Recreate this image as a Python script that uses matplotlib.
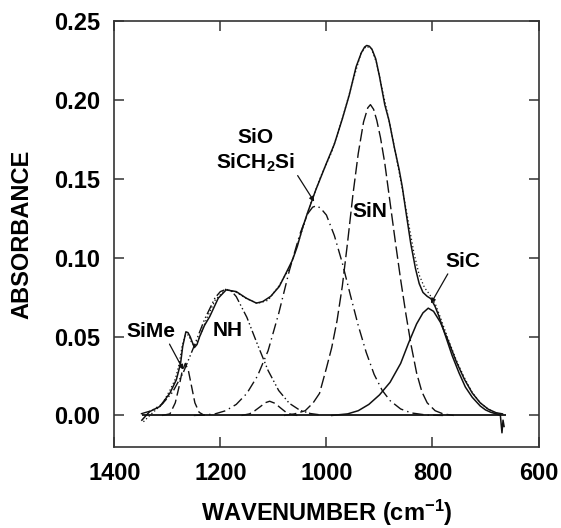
import numpy as np
import matplotlib
matplotlib.use('Agg')
import matplotlib.pyplot as plt

plt.rcParams['font.family'] = ['Liberation Sans', 'DejaVu Sans']
plt.rcParams['font.weight'] = 'bold'
plt.rcParams['axes.labelweight'] = 'bold'
plt.rcParams['mathtext.fontset'] = 'custom'
plt.rcParams['mathtext.rm'] = 'Liberation Sans:bold'
plt.rcParams['mathtext.bf'] = 'Liberation Sans:bold'
plt.rcParams['mathtext.default'] = 'bf'

total_wn = [1348, 1340, 1333, 1314, 1295, 1283, 1275, 1271, 1265, 1261, 1257, 1249,
            1244, 1239, 1230, 1220, 1204, 1189, 1170, 1151, 1132, 1120, 1105, 1089,
            1075, 1064, 1055, 1045, 1035, 1020, 1001, 985, 970, 957, 944, 934,
            928, 924, 919, 914, 907, 900, 890, 882, 872, 863, 857, 850, 841,
            832, 825, 818, 810, 803, 795, 788, 775, 763, 750, 738, 725, 710,
            700, 690, 678, 672, 669, 667, 665]
total_abs = [-0.003, 0.000, 0.0025, 0.0057, 0.0142, 0.0226, 0.033, 0.0437, 0.053, 0.0525,
             0.050, 0.043, 0.045, 0.050, 0.057, 0.0627, 0.0743, 0.0796, 0.0785, 0.0743,
             0.0712, 0.0722, 0.0755, 0.0817, 0.091, 0.0985, 0.107, 0.119, 0.129, 0.143,
             0.159, 0.172, 0.188, 0.203, 0.221, 0.230, 0.2335, 0.2345, 0.234, 0.232,
             0.226, 0.215, 0.197, 0.187, 0.170, 0.156, 0.145, 0.129, 0.109,
             0.093, 0.0835, 0.078, 0.0755, 0.074, 0.069, 0.063, 0.050, 0.038, 0.027,
             0.018, 0.0115, 0.006, 0.0035, 0.002, 0.0008, 0.000, -0.011, -0.003, -0.007]

# fitted sum (dotted), mostly hidden under the spectrum
fit_wn = [1345, 1330, 1310, 1295, 1285, 1278, 1272, 1266, 1260, 1254, 1248, 1240,
          1225, 1210, 1190, 1170, 1150, 1130, 1110, 1090, 1070, 1050, 1030, 1010,
          990, 970, 950, 935, 925, 915, 905, 895, 880, 865, 850, 835, 825,
          815, 805, 795, 785, 770, 755, 740, 725, 710, 695, 680, 668]
fit_abs = [-0.004, 0.001, 0.007, 0.016, 0.023, 0.032, 0.044, 0.051, 0.051, 0.046, 0.044, 0.049,
           0.062, 0.073, 0.080, 0.078, 0.074, 0.071, 0.073, 0.082, 0.093, 0.113, 0.134, 0.152,
           0.167, 0.188, 0.212, 0.2295, 0.234, 0.2325, 0.223, 0.207, 0.184, 0.158, 0.131, 0.103, 0.089,
           0.081, 0.0765, 0.071, 0.062, 0.048, 0.035, 0.024, 0.0145, 0.008, 0.004, 0.0015, 0.0005]

# deconvoluted bands
sime_wn = [1310, 1295, 1285, 1278, 1272, 1266, 1260, 1254, 1248, 1240, 1230]
sime_abs = [0.000, 0.001, 0.008, 0.018, 0.028, 0.033, 0.028, 0.018, 0.008, 0.002, 0.000]

nh_wn = [1350, 1330, 1310, 1290, 1270, 1250, 1230, 1210, 1200, 1189, 1178, 1170,
         1150, 1130, 1110, 1090, 1070, 1050, 1030, 1010]
nh_abs = [0.001, 0.003, 0.0071, 0.0148, 0.0271, 0.0435, 0.0607, 0.0746, 0.0785, 0.080, 0.0785, 0.0753,
          0.0622, 0.045, 0.0285, 0.0158, 0.0077, 0.0033, 0.0012, 0.0003]

bump_wn = [1160, 1145, 1135, 1125, 1115, 1107, 1097, 1087, 1077, 1067, 1055]
bump_abs = [0.000, 0.001, 0.003, 0.0055, 0.0081, 0.009, 0.0077, 0.0049, 0.0022, 0.0007, 0.000]

sio_wn = [1250, 1230, 1210, 1190, 1170, 1150, 1130, 1110, 1090, 1070, 1050, 1035,
          1026, 1018, 1010, 1000, 985, 970, 955, 940, 925, 910, 895, 880, 860,
          840, 810, 780]
sio_abs = [0.000, 0.0003, 0.001, 0.003, 0.007, 0.014, 0.025, 0.041, 0.0646, 0.0917, 0.115, 0.128,
           0.132, 0.133, 0.131, 0.127, 0.114, 0.0966, 0.0765, 0.057, 0.040, 0.026, 0.016, 0.0094, 0.0041,
           0.0016, 0.0002, 0.000]

sin_wn = [1080, 1060, 1040, 1025, 1013, 1000, 990, 980, 970, 960, 950, 940,
          930, 922, 917, 911, 905, 898, 890, 880, 870, 860, 850, 840, 830,
          820, 810, 795, 780, 760]
sin_abs = [0.000, 0.001, 0.003, 0.008, 0.014, 0.030, 0.043, 0.060, 0.082, 0.110, 0.140, 0.166,
           0.186, 0.195, 0.197, 0.194, 0.187, 0.176, 0.160, 0.135, 0.110, 0.086, 0.064, 0.044, 0.027,
           0.015, 0.008, 0.003, 0.001, 0.000]

sic_wn = [990, 960, 940, 920, 900, 880, 860, 845, 830, 818, 808, 798,
          785, 770, 755, 740, 725, 710, 695, 680, 668]
sic_abs = [0.000, 0.001, 0.003, 0.007, 0.013, 0.021, 0.033, 0.046, 0.058, 0.065, 0.068, 0.066,
           0.059, 0.047, 0.034, 0.023, 0.0142, 0.008, 0.004, 0.0017, 0.001]

baseline_range = [1348, 662]

x_ticks = [1400, 1200, 1000, 800, 600]
y_ticks = [0.00, 0.05, 0.10, 0.15, 0.20, 0.25]


def main():
    fig = plt.figure(figsize=(5.61, 5.28), dpi=100)
    ax = fig.add_axes([0.2037, 0.1534, 0.7563, 0.8068])

    ink = '#111111'
    ax.plot(total_wn, total_abs, color=ink, lw=1.1)
    ax.plot(fit_wn, fit_abs, color=ink, lw=0.9, ls=(0, (1, 2)))
    ax.hlines(0, baseline_range[0], baseline_range[1], color=ink, lw=1.3)

    ax.plot(sime_wn, sime_abs, color=ink, lw=1.0, ls=(0, (7, 3)))
    ax.plot(nh_wn, nh_abs, color=ink, lw=1.0, ls=(0, (7, 2, 1, 2, 1, 2)))
    ax.plot(bump_wn, bump_abs, color=ink, lw=1.0, ls=(0, (7, 3)))
    ax.plot(sio_wn, sio_abs, color=ink, lw=1.0, ls=(0, (8, 3, 1, 3)))
    ax.plot(sin_wn, sin_abs, color=ink, lw=1.0, ls=(0, (9, 3)))
    ax.plot(sic_wn, sic_abs, color=ink, lw=1.1)

    arrow = dict(arrowstyle='-|>', color=ink, lw=0.9, mutation_scale=7,
                 shrinkA=0, shrinkB=0)
    fs = 15
    ax.annotate('SiMe', xy=(1270, 0.029), xytext=(1331, 0.053), fontsize=fs,
                ha='center', va='center', arrowprops=dict(arrow, relpos=(0.85, 0.0)))
    ax.text(1186, 0.054, 'NH', fontsize=fs, ha='center', va='center')
    ax.text(1134, 0.176, 'SiO', fontsize=fs, ha='center', va='center')
    ax.annotate('SiCH$_2$Si', xy=(1023, 0.1355), xytext=(1134, 0.160), fontsize=fs,
                ha='center', va='center', arrowprops=dict(arrow, relpos=(0.97, 0.3)))
    ax.text(918, 0.129, 'SiN', fontsize=fs, ha='center', va='center')
    ax.annotate('SiC', xy=(803, 0.071), xytext=(743, 0.0975), fontsize=fs,
                ha='center', va='center', arrowprops=dict(arrow, relpos=(0.15, 0.1)))

    ax.set_xlim(1400, 600)
    ax.set_ylim(-0.02, 0.25)
    ax.set_xticks(x_ticks)
    ax.set_yticks(y_ticks)
    ax.set_yticklabels(['%.2f' % v for v in y_ticks])
    ax.tick_params(direction='in', length=7, width=1.1, labelsize=17,
                   top=True, right=True, color='#333333')
    ax.tick_params(axis='x', pad=11)
    ax.tick_params(axis='y', pad=10)
    for spine in ax.spines.values():
        spine.set_linewidth(1.2)
        spine.set_color('#333333')

    ax.set_xlabel('WAVENUMBER (cm$^{-1}$)', fontsize=17, labelpad=9)
    ax.set_ylabel('ABSORBANCE', fontsize=17, labelpad=15)

    fig.savefig('out.png', dpi=100)


if __name__ == '__main__':
    main()
